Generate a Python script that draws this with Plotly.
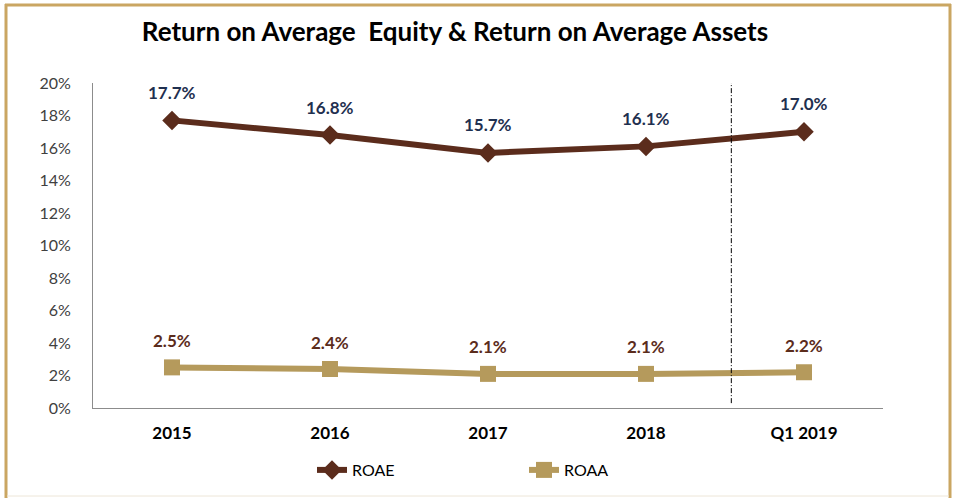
import plotly.graph_objects as go

categories = ["2015", "2016", "2017", "2018", "Q1 2019"]
roae = [17.7, 16.8, 15.7, 16.1, 17.0]
roaa = [2.5, 2.4, 2.1, 2.1, 2.2]
y_ticks = [0, 2, 4, 6, 8, 10, 12, 14, 16, 18, 20]
y_tick_labels = [f"{v}%" for v in y_ticks]

W, H = 955, 498
L, R, T, B = 93, 72, 83, 90
pw, ph = W - L - R, H - T - B

def px(x):
    return (x - L) / pw

def py(y):
    return (H - B - y) / ph

font_family = "Lato, Open Sans, sans-serif"
xs = list(range(len(categories)))

fig = go.Figure()
fig.add_trace(go.Scatter(
    x=xs, y=roae, name="ROAE", mode="lines+markers",
    line=dict(color="#5b2c1c", width=6),
    marker=dict(symbol="diamond", size=15, color="#5b2c1c"),
))
fig.add_trace(go.Scatter(
    x=xs, y=roaa, name="ROAA", mode="lines+markers",
    line=dict(color="#b59a5c", width=6),
    marker=dict(symbol="square", size=16, color="#b59a5c"),
))

for xv, v in zip(xs, roae):
    fig.add_annotation(x=xv, y=v, text=f"<b>{v:.1f}%</b>", showarrow=False, yshift=28,
                       font=dict(family=font_family, size=17, color="#1f3050"))
for xv, v in zip(xs, roaa):
    fig.add_annotation(x=xv, y=v, text=f"<b>{v:.1f}%</b>", showarrow=False, yshift=27,
                       font=dict(family=font_family, size=17, color="#5b2c1c"))

# vertical dash-dot separator
fig.add_shape(type="line", xref="x", yref="y", x0=3.54, x1=3.54, y0=0.3, y1=20.2,
              line=dict(color="black", width=1, dash="5px,2px,1px,2px"))

# outer frame (left, top, right)
bc = "#caa662"
fig.add_shape(type="line", xref="paper", yref="paper", x0=px(6), x1=px(6), y0=py(4), y1=py(498),
              line=dict(color=bc, width=3))
fig.add_shape(type="line", xref="paper", yref="paper", x0=px(5), x1=px(951), y0=py(5), y1=py(5),
              line=dict(color=bc, width=3))
fig.add_shape(type="line", xref="paper", yref="paper", x0=px(950), x1=px(950), y0=py(4), y1=py(498),
              line=dict(color=bc, width=3))
fig.add_shape(type="line", xref="paper", yref="paper", x0=px(7), x1=px(949), y0=py(496), y1=py(496),
              line=dict(color="#ede6d8", width=1))

fig.update_layout(
    width=W, height=H,
    margin=dict(l=L, r=R, t=T, b=B, autoexpand=False),
    paper_bgcolor="white", plot_bgcolor="white",
    title=dict(text="<b>Return on Average  Equity & Return on Average Assets</b>",
               xref="container", x=455 / W, xanchor="center",
               yref="container", y=1 - 32 / H, yanchor="middle",
               font=dict(family=font_family, size=26, color="black")),
    xaxis=dict(range=[-0.5, 4.5], tickvals=xs, ticktext=categories,
               showgrid=False, zeroline=False, showline=True, linecolor="#8c8c8c", linewidth=1,
               ticks="", ticklabelstandoff=10,
               tickfont=dict(family=font_family, size=17, color="black", weight="bold")),
    yaxis=dict(range=[0, 20], tickvals=y_ticks, ticktext=y_tick_labels,
               showgrid=False, zeroline=False, showline=True, linecolor="#8c8c8c", linewidth=1,
               ticks="", ticklabelstandoff=18,
               tickfont=dict(family=font_family, size=16, color="#404040")),
    legend=dict(orientation="h", x=px(312), xanchor="left", y=py(470), yanchor="middle",
                font=dict(family=font_family, size=16, color="black"),
                entrywidth=167, entrywidthmode="pixels", itemwidth=30, tracegroupgap=0),
    showlegend=True,
)

fig.write_html("out.html", config={"displayModeBar": False},
               post_script="document.body.style.margin='0';")
